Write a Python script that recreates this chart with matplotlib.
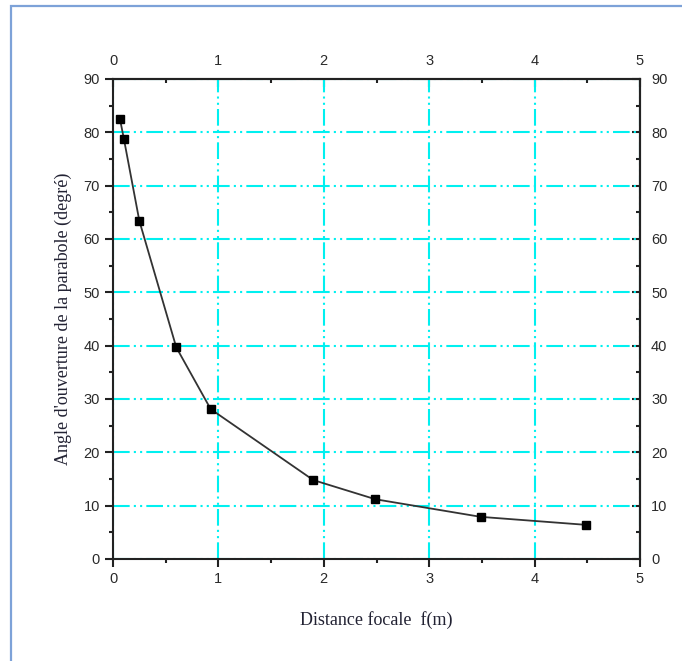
import matplotlib
matplotlib.use("Agg")
from matplotlib import pyplot as plt
from matplotlib.patches import Rectangle

# focal distance (m) vs opening angle (deg)
focale = [0.066, 0.104, 0.25, 0.60, 0.927, 1.90, 2.49, 3.49, 4.49]
angle = [82.5, 78.7, 63.4, 39.7, 28.1, 14.8, 11.2, 7.9, 6.4]

x_ticks = [0, 1, 2, 3, 4, 5]
y_ticks = [0, 10, 20, 30, 40, 50, 60, 70, 80, 90]
x_minor = [0.5, 1.5, 2.5, 3.5, 4.5]
y_minor = [5, 15, 25, 35, 45, 55, 65, 75, 85]

fig = plt.figure(figsize=(6.82, 6.61), dpi=100)
fig.patches.append(Rectangle((11 / 682, -0.1), 1.2, 1 - 6 / 661 + 0.1,
                             transform=fig.transFigure, fill=False,
                             edgecolor="#7da2d8", linewidth=1.6))

ax = fig.add_axes([113 / 682, 1 - 559 / 661, 527 / 682, 480 / 661])

ax.plot(focale, angle, color="#333333", linewidth=1.3, zorder=3)
ax.plot(focale, angle, linestyle="none", marker="s", markersize=6,
        color="black", zorder=4)

ax.set_xlim(0, 5)
ax.set_ylim(0, 90)
ax.set_xticks(x_ticks)
ax.set_yticks(y_ticks)
ax.set_xticks(x_minor, minor=True)
ax.set_yticks(y_minor, minor=True)

ax.grid(True, which="major", color="#00f0f0", linewidth=1.5,
        linestyle=(0, (8, 2, 1, 2, 1, 2)), zorder=1)

for s in ax.spines.values():
    s.set_linewidth(1.5)
    s.set_color("#222222")

tick_kw = dict(labelsize=10.5, width=1.5, color="#222222", labelcolor="#2a2a2a")
ax.tick_params(which="both", direction="out", **tick_kw)
ax.tick_params(which="major", length=6)
ax.tick_params(which="minor", length=3)

# mirrored axes, ticks pointing inward
top = ax.secondary_xaxis("top")
top.set_xticks(x_ticks)
top.set_xticks(x_minor, minor=True)
right = ax.secondary_yaxis("right")
right.set_yticks(y_ticks)
right.set_yticks(y_minor, minor=True)
for sec in (top, right):
    sec.tick_params(which="both", direction="in", **tick_kw)
    sec.tick_params(which="major", length=6, pad=8)
    sec.tick_params(which="minor", length=3)
    for s in sec.spines.values():
        s.set_linewidth(1.5)
        s.set_color("#222222")

for a in (ax, top, right):
    for lab in a.get_xticklabels() + a.get_yticklabels():
        lab.set_family("Liberation Sans")

ax.set_xlabel("Distance focale  f(m)", family="Liberation Serif",
              fontsize=13, labelpad=18, color="#222233")
ax.set_ylabel("Angle d'ouverture de la parabole (degré)",
              family="Liberation Serif", fontsize=13, labelpad=8,
              color="#222233")

fig.savefig("out.png", dpi=100)
